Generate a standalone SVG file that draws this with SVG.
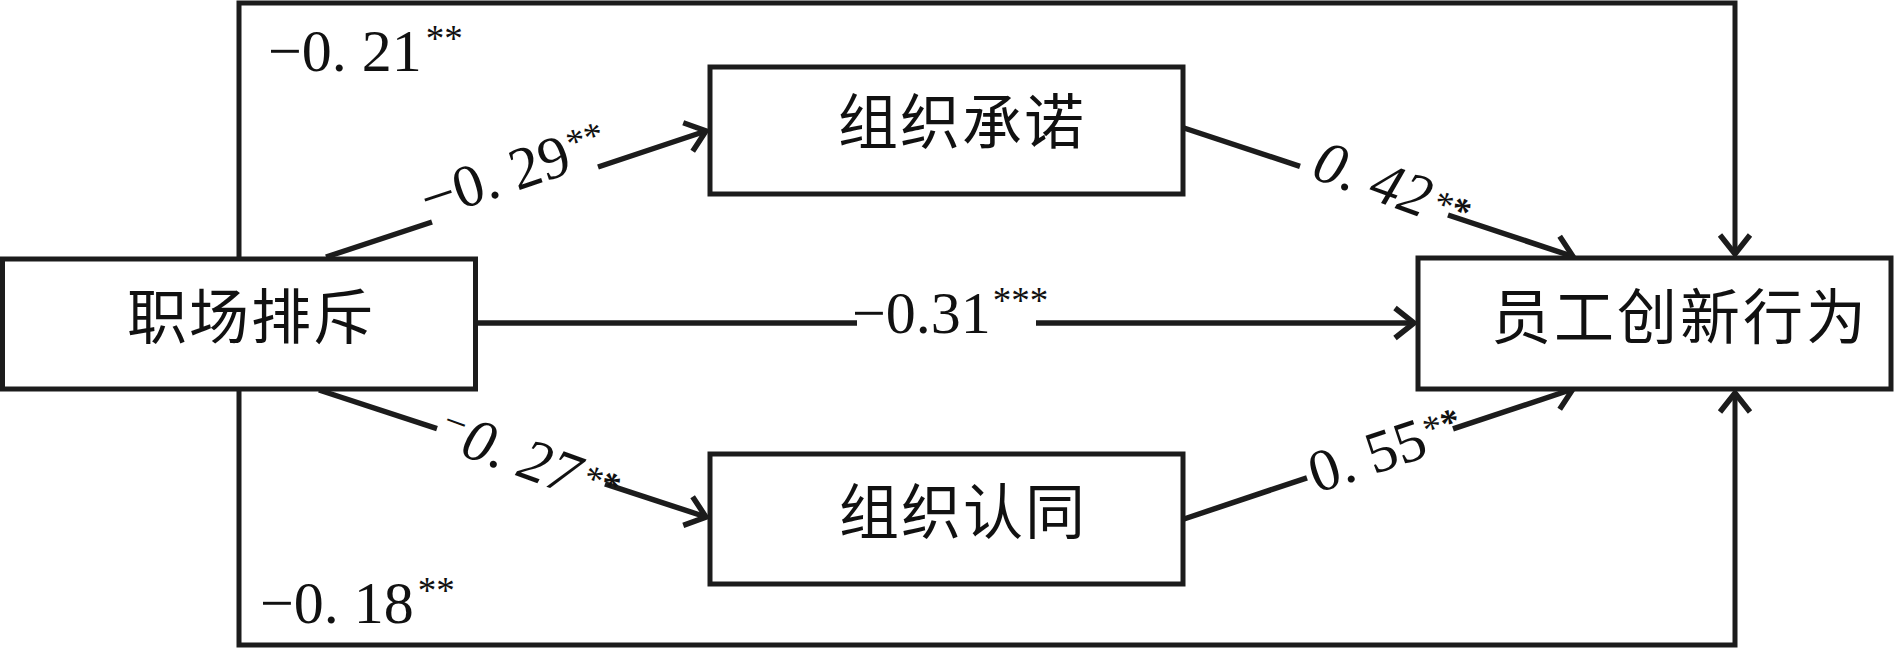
<svg xmlns="http://www.w3.org/2000/svg" width="1894" height="648" viewBox="0 0 1894 648">
  <style>
    .box { fill: #ffffff; stroke: #1c1c1c; stroke-width: 5; }
    .cn { font-family: "Noto Sans CJK SC", "Noto Sans CJK TC", sans-serif; font-size: 60px; fill: #111111; text-anchor: middle; letter-spacing: 2px; }
    .num { font-family: "Liberation Serif", "Times New Roman", serif; font-size: 60px; fill: #111111; }
    .it { font-style: italic; }
    .sup { font-size: 37px; }
    .ln { fill: none; stroke: #1c1c1c; stroke-width: 5.5; stroke-linecap: butt; }
    .fr { fill: none; stroke: #1c1c1c; stroke-width: 5; }
  </style>
  <defs>
    <marker id="arr" markerUnits="userSpaceOnUse" markerWidth="40" markerHeight="40" viewBox="-30 -20 40 40" refX="0" refY="0" orient="auto" overflow="visible">
      <path d="M-19,-15 L0,0 L-19,15" fill="none" stroke="#1c1c1c" stroke-width="5.5"/>
    </marker>
  </defs>

  <rect width="1894" height="648" fill="#ffffff"/>

  <g id="connectors">
    <path class="fr" d="M239,259 V3 H1735 V254" marker-end="url(#arr)"/>
    <path class="fr" d="M239,389 V645 H1735 V393" marker-end="url(#arr)"/>
    <path class="ln" d="M476,323 H857"/>
    <path class="ln" d="M1036,323 H1414" marker-end="url(#arr)"/>
    <path class="ln" d="M326,257 L432,222"/>
    <path class="ln" d="M598,167 L706,131" marker-end="url(#arr)"/>
    <path class="ln" d="M1184,128 L1300,166.3"/>
    <path class="ln" d="M1448,215 L1573,256.5" marker-end="url(#arr)"/>
    <path class="ln" d="M319,390 L437,428.7"/>
    <path class="ln" d="M605,483.8 L706,517" marker-end="url(#arr)"/>
    <path class="ln" d="M1184,519 L1307,477.8"/>
    <path class="ln" d="M1453,428.9 L1573,389" marker-end="url(#arr)"/>
  </g>

  <g id="labels">
    <text class="num" x="268" y="71">−0. 21<tspan class="sup" dx="4" dy="-20">**</tspan></text>
    <text class="num" x="260" y="623">−0. 18<tspan class="sup" dx="4" dy="-20">**</tspan></text>
    <text class="num" x="852" y="333">−0.31<tspan class="sup" dx="2" dy="-20">***</tspan></text>
    <g transform="translate(432,222) rotate(-18.3)">
      <text class="num" x="-3" y="-3">−0. 29<tspan class="sup" dx="2" dy="-16">**</tspan></text>
    </g>
    <g transform="translate(1300,166.3) rotate(20)">
      <text class="num it" x="13" y="7">0. 42<tspan class="sup" dx="4" dy="-8">*</tspan><tspan class="sup" font-weight="bold">*</tspan></text>
    </g>
    <g transform="translate(437,428.7) rotate(20)">
      <text class="num it" x="2" y="17"><tspan font-size="40" dy="-16">−</tspan><tspan dy="16">0. 27</tspan><tspan class="sup" dx="4" dy="-11">*</tspan><tspan class="sup" font-weight="bold">*</tspan></text>
    </g>
    <g transform="translate(1307,477.8) rotate(-18.5)">
      <text class="num" x="4" y="18">0. 55<tspan class="sup" dx="2" dy="-13">*</tspan><tspan class="sup" font-weight="bold">*</tspan></text>
    </g>
  </g>

  <g id="node-workplace-ostracism">
    <rect class="box" x="2.5" y="259" width="473" height="130"/>
    <text class="cn" x="251" y="339">职场排斥</text>
  </g>
  <g id="node-org-commitment">
    <rect class="box" x="710" y="67" width="473" height="127"/>
    <text class="cn" x="962" y="144">组织承诺</text>
  </g>
  <g id="node-org-identification">
    <rect class="box" x="710" y="454" width="473" height="130"/>
    <text class="cn" x="963" y="534">组织认同</text>
  </g>
  <g id="node-innovative-behavior">
    <rect class="box" x="1418" y="258" width="473" height="131"/>
    <text class="cn" x="1680" y="339" style="letter-spacing:3px">员工创新行为</text>
  </g>
</svg>
